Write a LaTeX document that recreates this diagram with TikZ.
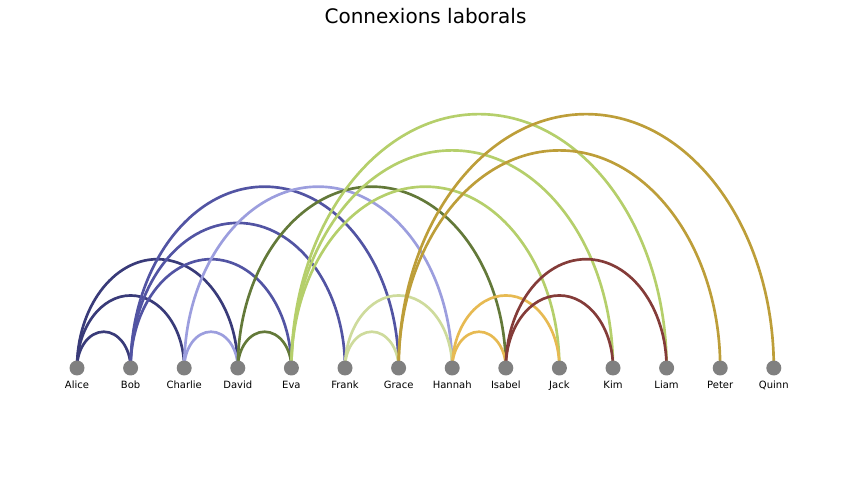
\documentclass[tikz,border=0pt]{standalone}
\usepackage{fontspec}
\setmainfont{DejaVu Sans}
\usetikzlibrary{backgrounds}
\definecolor{navy}{HTML}{393B79}
\definecolor{midblue}{HTML}{5254A3}
\definecolor{lavender}{HTML}{9C9EDE}
\definecolor{olive}{HTML}{637939}
\definecolor{lime}{HTML}{B5CF6B}
\definecolor{pale}{HTML}{CEDB9C}
\definecolor{gold}{HTML}{BD9E39}
\definecolor{amber}{HTML}{E7BA52}
\definecolor{brick}{HTML}{843C39}
\tikzset{
x=0.75pt,
y=-0.75pt,
person/.style={circle, fill=black!50, inner sep=0pt, minimum size=11.25pt,
  label={[font=\fontsize{7.5}{9}\selectfont, label distance=0.2pt]below:#1}},
link/.style={line width=2pt},
heading/.style={font=\fontsize{15}{18}\selectfont},
}
% arc from a person, spanning #2 steps to the right
\newcommand\worklink[3]{%
  \draw[link, #3] (#1.center) arc[start angle=180, end angle=0,
    x radius=20.1pt*#2, y radius=27.2pt*#2];}

\begin{document}
\begin{tikzpicture}
\useasboundingbox (0,0) rectangle (851,484);
\node (title) [heading] at (425.5,16) {Connexions laborals};
\foreach \i/\who in {0/Alice,1/Bob,2/Charlie,3/David,4/Eva,5/Frank,6/Grace,
    7/Hannah,8/Isabel,9/Jack,10/Kim,11/Liam,12/Peter,13/Quinn}
  \node (\who) [person=\who] at (77+53.6*\i,368) {};
\begin{scope}[on background layer]
\worklink{Alice}{1}{navy}
\worklink{Alice}{2}{navy}
\worklink{Alice}{3}{navy}
\worklink{Bob}{3}{midblue}
\worklink{Bob}{4}{midblue}
\worklink{Bob}{5}{midblue}
\worklink{Charlie}{1}{lavender}
\worklink{Charlie}{5}{lavender}
\worklink{David}{1}{olive}
\worklink{David}{5}{olive}
\worklink{Eva}{5}{lime}
\worklink{Eva}{6}{lime}
\worklink{Eva}{7}{lime}
\worklink{Frank}{1}{pale}
\worklink{Frank}{2}{pale}
\worklink{Grace}{6}{gold}
\worklink{Grace}{7}{gold}
\worklink{Hannah}{1}{amber}
\worklink{Hannah}{2}{amber}
\worklink{Isabel}{2}{brick}
\worklink{Isabel}{3}{brick}
\end{scope}
\end{tikzpicture}
\end{document}
